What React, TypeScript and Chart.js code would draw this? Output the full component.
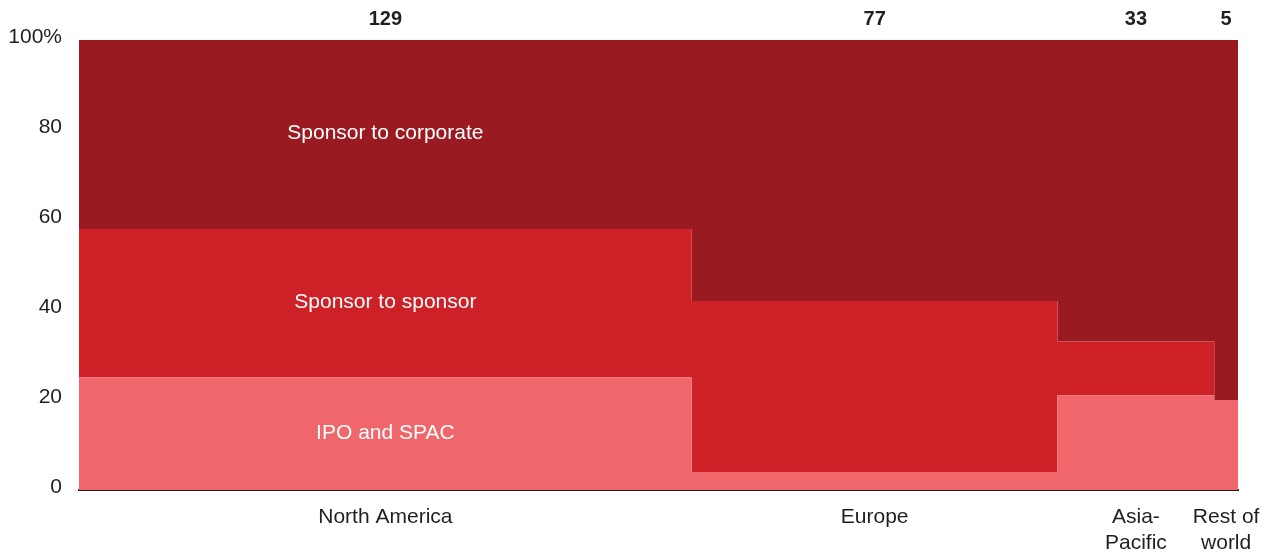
import React, { useEffect, useRef } from "react";
import { Chart, registerables } from "chart.js";

Chart.register(...registerables);

const categories: string[][] = [["North America"], ["Europe"], ["Asia-", "Pacific"], ["Rest of", "world"]];
const counts: number[] = [129, 77, 33, 5];
const ipoSpac: number[] = [25, 4, 21, 20];
const sponsorToSponsor: number[] = [33, 38, 12, 0];
const sponsorToCorporate: number[] = [42, 58, 67, 80];
const seriesNames: string[] = ["IPO and SPAC", "Sponsor to sponsor", "Sponsor to corporate"];
const seriesColors: string[] = ["#F0676B", "#CD2027", "#991A20"];
const yTicks: number[] = [0, 20, 40, 60, 80, 100];

const FONT = "'Liberation Sans', Arial, sans-serif";

export default function App() {
  const ref = useRef<HTMLCanvasElement | null>(null);

  useEffect(() => {
    if (!ref.current) return;
    const total = counts.reduce((a, b) => a + b, 0);
    const starts: number[] = [];
    let acc = 0;
    counts.forEach((c) => {
      starts.push(acc);
      acc += c;
    });
    const centers = counts.map((c, i) => starts[i] + c / 2);

    const layers = [ipoSpac, sponsorToSponsor, sponsorToCorporate];
    const cum: number[][] = [];
    layers.forEach((vals, li) => {
      cum.push(vals.map((v, i) => v + (li > 0 ? cum[li - 1][i] : 0)));
    });

    const datasets = layers.map((_, li) => {
      const pts = starts.map((s, i) => ({ x: s, y: cum[li][i] }));
      pts.push({ x: total, y: cum[li][cum[li].length - 1] });
      return {
        label: seriesNames[li],
        data: pts,
        stepped: "before" as const,
        borderWidth: 0,
        borderColor: seriesColors[li],
        backgroundColor: seriesColors[li],
        pointRadius: 0,
        fill: li === 0 ? "origin" : "-1",
        tension: 0,
      };
    });

    const segLabels = {
      id: "segLabels",
      afterDatasetsDraw(chart: any) {
        const { ctx, scales } = chart;
        const x = scales.x.getPixelForValue(centers[0]);
        ctx.save();
        ctx.fillStyle = "#ffffff";
        ctx.font = `21px ${FONT}`;
        ctx.textAlign = "center";
        ctx.textBaseline = "middle";
        layers.forEach((vals, li) => {
          const lo = li > 0 ? cum[li - 1][0] : 0;
          const hi = cum[li][0];
          const y = scales.y.getPixelForValue((lo + hi) / 2);
          ctx.fillText(seriesNames[li], x, y - 1);
        });
        ctx.restore();
      },
    };

    const fitH = (h: number) => (scale: any) => {
      scale.height = h;
      scale.paddingLeft = 0;
      scale.paddingRight = 0;
    };

    const chart = new Chart(ref.current, {
      type: "line",
      data: { datasets: datasets as any },
      plugins: [segLabels],
      options: {
        responsive: false,
        animation: false,
        layout: { padding: { left: 0, right: 32, top: 0, bottom: 0 } },
        plugins: { legend: { display: false }, tooltip: { enabled: false } },
        scales: {
          x: {
            type: "linear",
            position: "bottom",
            min: 0,
            max: total,
            grid: { display: false, drawTicks: false },
            border: { display: true, color: "#231F20", width: 2 },
            afterBuildTicks: (scale: any) => {
              scale.ticks = centers.map((v) => ({ value: v }));
            },
            afterFit: fitH(62),
            ticks: {
              autoSkip: false,
              maxRotation: 0,
              padding: 15,
              color: "#231F20",
              font: { family: FONT, size: 21, lineHeight: 1.2 },
              callback: (_v: any, i: number) => categories[i],
            },
          },
          xTop: {
            type: "linear",
            position: "top",
            min: 0,
            max: total,
            grid: { display: false, drawTicks: false },
            border: { display: false },
            afterBuildTicks: (scale: any) => {
              scale.ticks = centers.map((v) => ({ value: v }));
            },
            afterFit: fitH(40),
            ticks: {
              autoSkip: false,
              maxRotation: 0,
              padding: 9,
              color: "#231F20",
              font: { family: FONT, size: 20, weight: "bold" },
              callback: (_v: any, i: number) => String(counts[i]),
            },
          },
          y: {
            type: "linear",
            min: 0,
            max: 100,
            grid: { display: false, drawTicks: false },
            border: { display: false },
            afterBuildTicks: (scale: any) => {
              scale.ticks = yTicks.map((v) => ({ value: v }));
            },
            afterFit: (scale: any) => {
              scale.width = 79;
            },
            ticks: {
              padding: 17,
              color: "#231F20",
              labelOffset: -3,
              font: { family: FONT, size: 21 },
              callback: (v: any) => (v === 100 ? "100%" : String(v)),
            },
          },
        },
      },
    });
    return () => chart.destroy();
  }, []);

  return (
    <div style={{ position: "fixed", left: 0, top: 0, width: 1270, height: 552, background: "#fff" }}>
      <canvas ref={ref} width={1270} height={552} style={{ display: "block" }} />
    </div>
  );
}
